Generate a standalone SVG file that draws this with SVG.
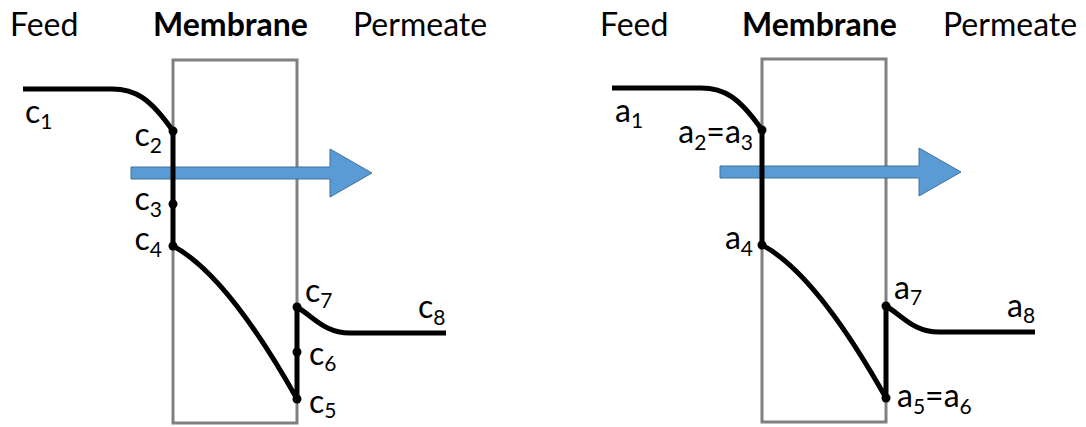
<svg xmlns="http://www.w3.org/2000/svg" width="1086" height="427" viewBox="0 0 1086 427">
<style>
text{font-family:Lato,"Open Sans","Liberation Sans",sans-serif;fill:#000}
.hd{font-size:32px}
.b{font-weight:bold}
.lb{font-size:32px}
.sub{font-size:21px}
.mem{fill:none;stroke:#808080;stroke-width:3}
.prof{fill:none;stroke:#000;stroke-width:5;stroke-linejoin:round}
.arr{fill:#5b9bd5;stroke:#41719c;stroke-width:1}
.dot{fill:#000}
</style>
<rect width="1086" height="427" fill="#fff"/>
<defs>
<g id="panel">
<rect class="mem" x="173" y="60" width="124" height="363"/>
<polygon class="arr" points="131,167 330,167 330,149 372,173 330,197 330,179 131,179"/>
<path class="prof" d="M23,89 L112,89 C135,89 150,98 173,131 L173,246 C207,264 248,312 297,399 L297,307 C315,318 325,333 350,333 L446,333"/>
<circle class="dot" cx="173" cy="131" r="4.5"/>
<circle class="dot" cx="173" cy="246" r="4.5"/>
<circle class="dot" cx="297" cy="399" r="4.5"/>
<circle class="dot" cx="297" cy="307" r="4.5"/>
</g>
</defs>
<g id="left-panel">
<g id="left-headers">
<text class="hd" x="10" y="36">Feed</text>
<text class="hd b" x="153" y="36">Membrane</text>
<text class="hd" x="353" y="36">Permeate</text>
</g>
<use href="#panel"/>
<circle class="dot" cx="173" cy="204" r="4.5"/>
<circle class="dot" cx="297" cy="352" r="4.5"/>
<g id="left-labels">
<text class="lb" x="25" y="123">c<tspan class="sub" dy="6">1</tspan></text>
<text class="lb" x="162" y="146" text-anchor="end">c<tspan class="sub" dy="7">2</tspan></text>
<text class="lb" x="162" y="210" text-anchor="end">c<tspan class="sub" dy="7">3</tspan></text>
<text class="lb" x="162" y="250" text-anchor="end">c<tspan class="sub" dy="7">4</tspan></text>
<text class="lb" x="305" y="302">c<tspan class="sub" dy="6">7</tspan></text>
<text class="lb" x="418" y="318">c<tspan class="sub" dy="7">8</tspan></text>
<text class="lb" x="309" y="365">c<tspan class="sub" dy="6">6</tspan></text>
<text class="lb" x="309" y="413">c<tspan class="sub" dy="5">5</tspan></text>
</g>
</g>
<g id="right-panel">
<g id="right-headers">
<text class="hd" x="600" y="36">Feed</text>
<text class="hd b" x="742" y="36">Membrane</text>
<text class="hd" x="943" y="36">Permeate</text>
</g>
<use href="#panel" transform="translate(589,-1)"/>
<g id="right-labels">
<text class="lb" x="615" y="122">a<tspan class="sub" dy="6">1</tspan></text>
<text class="lb" x="753" y="143" text-anchor="end">a<tspan class="sub" dy="7">2</tspan><tspan dy="-7">=a</tspan><tspan class="sub" dy="7">3</tspan></text>
<text class="lb" x="753" y="249" text-anchor="end">a<tspan class="sub" dy="7">4</tspan></text>
<text class="lb" x="894" y="299">a<tspan class="sub" dy="6">7</tspan></text>
<text class="lb" x="1007" y="317">a<tspan class="sub" dy="6">8</tspan></text>
<text class="lb" x="897" y="407">a<tspan class="sub" dy="7">5</tspan><tspan dy="-7">=a</tspan><tspan class="sub" dy="7">6</tspan></text>
</g>
</g>
</svg>
